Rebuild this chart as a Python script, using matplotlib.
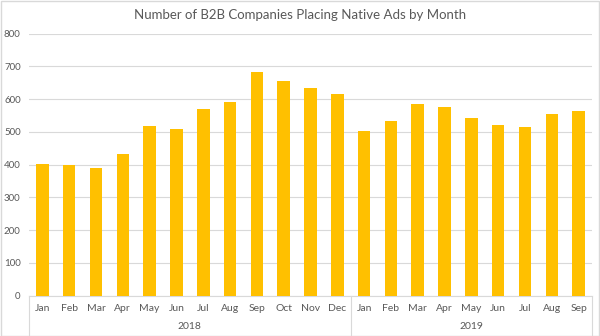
import matplotlib
matplotlib.use('Agg')
import matplotlib.pyplot as plt
from matplotlib.lines import Line2D
from matplotlib.patches import Rectangle
import matplotlib.transforms as mtransforms

months_2018 = ['Jan', 'Feb', 'Mar', 'Apr', 'May', 'Jun', 'Jul', 'Aug', 'Sep', 'Oct', 'Nov', 'Dec']
months_2019 = ['Jan', 'Feb', 'Mar', 'Apr', 'May', 'Jun', 'Jul', 'Aug', 'Sep']
values_2018 = [403, 399, 389, 431, 517, 508, 570, 591, 682, 656, 634, 615]
values_2019 = [503, 534, 586, 576, 542, 522, 514, 555, 565]
years = ['2018', '2019']
yticks = [0, 100, 200, 300, 400, 500, 600, 700, 800]

plt.rcParams['font.family'] = ['Lato', 'DejaVu Sans']
text_color = '#595959'
grid_color = '#D9D9D9'

labels = months_2018 + months_2019
values = values_2018 + values_2019
x = list(range(len(values)))

fig = plt.figure(figsize=(6, 3.36), dpi=100)
ax = fig.add_axes([0.0483, 0.1205, 0.9384, 0.7792])

ax.bar(x, values, width=0.47, color='#FFC000', zorder=3)

ax.set_xlim(-0.5, len(values) - 0.5)
ax.set_ylim(0, 800)
ax.set_yticks(yticks)
ax.set_yticklabels([str(t) for t in yticks], fontsize=7, color=text_color)
ax.set_xticks(x)
ax.set_xticklabels(labels, fontsize=7.5, color=text_color)
ax.tick_params(axis='both', length=0)
ax.tick_params(axis='y', pad=6)
ax.tick_params(axis='x', pad=6)
ax.grid(axis='y', color=grid_color, linewidth=0.8, zorder=0)
for side in ['top', 'right', 'left']:
    ax.spines[side].set_visible(False)
ax.spines['bottom'].set_color(grid_color)
ax.spines['bottom'].set_linewidth(0.8)

# group separators and year labels under the months
trans = mtransforms.blended_transform_factory(ax.transData, ax.transAxes)
bounds = [-0.5, len(months_2018) - 0.5, len(values) - 0.5]
for b in bounds:
    ax.add_line(Line2D([b, b], [0, -0.16], transform=trans, color=grid_color,
                       linewidth=0.8, clip_on=False))
for i, yr in enumerate(years):
    mid = (bounds[i] + bounds[i + 1]) / 2
    ax.text(mid, -0.12, yr, transform=trans, ha='center', va='center',
            fontsize=7.5, color=text_color)

fig.text(0.5, 0.955, 'Number of B2B Companies Placing Native Ads by Month',
         ha='center', va='center', fontsize=9.5, color=text_color)

fig.patches.append(Rectangle((0.001, 0.001), 0.997, 0.997, transform=fig.transFigure,
                             fill=False, edgecolor='#D9D9D9', linewidth=1))

fig.savefig('out.png', dpi=100)
